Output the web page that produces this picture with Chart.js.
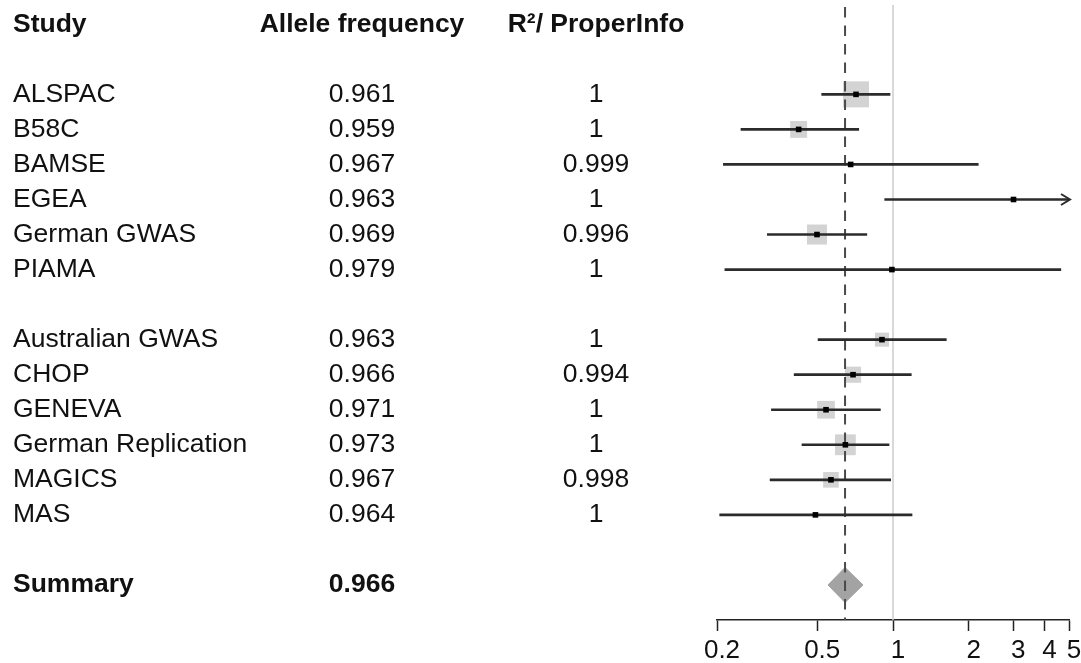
<!DOCTYPE html>
<html>
<head>
<meta charset="utf-8">
<script src="https://cdn.jsdelivr.net/npm/chart.js@4/dist/chart.umd.min.js"></script>
<style>
  html, body { margin: 0; padding: 0; background: #fff; }
  canvas { display: block; }
</style>
</head>
<body>
<canvas id="forest" width="1081" height="663"></canvas>
<script>
// Study-level results
const studies = ['ALSPAC', 'B58C', 'BAMSE', 'EGEA', 'German GWAS', 'PIAMA',
                 'Australian GWAS', 'CHOP', 'GENEVA', 'German Replication', 'MAGICS', 'MAS'];
const studyGroup = [1, 1, 1, 1, 1, 1, 2, 2, 2, 2, 2, 2];
const alleleFreq = ['0.961', '0.959', '0.967', '0.963', '0.969', '0.979',
                    '0.963', '0.966', '0.971', '0.973', '0.967', '0.964'];
const rsqInfo = ['1', '1', '0.999', '1', '0.996', '1',
                 '1', '0.994', '1', '1', '0.998', '1'];
const oddsRatio = [0.713, 0.422, 0.679, 3.01, 0.499, 0.99,
                   0.904, 0.694, 0.542, 0.647, 0.567, 0.492];
const ciLower = [0.521, 0.249, 0.212, 0.927, 0.317, 0.215,
                 0.504, 0.405, 0.329, 0.435, 0.325, 0.205];
const ciUpper = [0.973, 0.731, 2.18, 9.8, 0.787, 4.64,
                 1.628, 1.182, 0.891, 0.964, 0.979, 1.19];
const studyWeight = [1.00, 0.65, 0.15, 0.15, 0.77, 0.15,
                     0.54, 0.62, 0.68, 0.80, 0.60, 0.15];

// Pooled estimate
const summaryLabel = 'Summary';
const summaryFreq = '0.966';
const summaryOR = 0.645;
const summaryLower = 0.552;
const summaryUpper = 0.76;

// Column headers and axis ticks
const headers = ['Study', 'Allele frequency', 'R\u00B2/ ProperInfo'];
const xTicks = [0.2, 0.5, 1, 2, 3, 4, 5];

// ---- layout helpers ----
const FONT = "'Liberation Sans', Arial, Helvetica, sans-serif";
const X_MIN = 0.2, X_MAX = 5;
const Y_MIN = -0.55, Y_MAX = 17.0;
const MAX_BOX = 26;     // px side of the heaviest study's box
const DOT = 5.6;        // px side of the point estimate marker
const DIAMOND_HALF = 0.5;

// Row 0 is the header; each group is followed by a blank row.
const studyRow = studies.map((s, i) => i + 2 + (studyGroup[i] - 1));
const summaryRow = studyRow[studyRow.length - 1] + 2;

const textColumns = {
  id: 'textColumns',
  afterDraw(chart) {
    const ctx = chart.ctx;
    const y = chart.scales.y;
    ctx.save();
    ctx.fillStyle = '#111';
    ctx.textBaseline = 'middle';

    const colStudyX = 13, colFreqX = 362, colInfoX = 596;

    ctx.font = 'bold 26.5px ' + FONT;
    const hy = y.getPixelForValue(0);
    ctx.textAlign = 'left';
    ctx.fillText(headers[0], colStudyX, hy);
    ctx.textAlign = 'center';
    ctx.fillText(headers[1], colFreqX, hy);
    ctx.fillText(headers[2], colInfoX, hy);

    ctx.font = '26.5px ' + FONT;
    studies.forEach((name, i) => {
      const ry = y.getPixelForValue(studyRow[i]);
      ctx.textAlign = 'left';
      ctx.fillText(name, colStudyX, ry);
      ctx.textAlign = 'center';
      ctx.fillText(alleleFreq[i], colFreqX, ry);
      ctx.fillText(rsqInfo[i], colInfoX, ry);
    });

    ctx.font = 'bold 26.5px ' + FONT;
    const sy = y.getPixelForValue(summaryRow);
    ctx.textAlign = 'left';
    ctx.fillText(summaryLabel, colStudyX, sy);
    ctx.textAlign = 'center';
    ctx.fillText(summaryFreq, colFreqX, sy);
    ctx.restore();
  }
};

// Open arrowheads for intervals running past the axis limit
const clippedArrows = {
  id: 'clippedArrows',
  afterDatasetsDraw(chart) {
    const ctx = chart.ctx;
    const xs = chart.scales.x, ys = chart.scales.y;
    ctx.save();
    ctx.strokeStyle = '#2b2b2b';
    ctx.lineWidth = 2;
    studies.forEach((s, i) => {
      if (ciUpper[i] > X_MAX) {
        const tx = xs.getPixelForValue(X_MAX) + 1;
        const ty = ys.getPixelForValue(studyRow[i]);
        ctx.beginPath();
        ctx.moveTo(tx - 9, ty - 5.5);
        ctx.lineTo(tx, ty);
        ctx.lineTo(tx - 9, ty + 5.5);
        ctx.stroke();
      }
    });
    ctx.restore();
  }
};

const studyPoints = studies.map((s, i) => ({ x: oddsRatio[i], y: studyRow[i] }));

new Chart(document.getElementById('forest'), {
  data: {
    datasets: [
      { // line of no effect
        type: 'scatter', showLine: true, order: 6,
        data: [{ x: 1, y: Y_MIN }, { x: 1, y: Y_MAX }],
        borderColor: '#cdcdcd', borderWidth: 1.5, pointRadius: 0
      },
      { // study weight boxes
        type: 'scatter', order: 5,
        data: studyPoints,
        pointStyle: 'rect',
        pointRadius: studyWeight.map(w => MAX_BOX * w / Math.SQRT2),
        backgroundColor: '#d3d3d3', borderWidth: 0
      },
      { // pooled estimate diamond
        type: 'scatter', showLine: true, order: 4, fill: 'shape',
        data: [
          { x: summaryLower, y: summaryRow },
          { x: summaryOR, y: summaryRow - DIAMOND_HALF },
          { x: summaryUpper, y: summaryRow },
          { x: summaryOR, y: summaryRow + DIAMOND_HALF },
          { x: summaryLower, y: summaryRow }
        ],
        borderColor: '#a3a3a3', backgroundColor: '#a3a3a3',
        borderWidth: 1, pointRadius: 0, tension: 0
      },
      { // pooled estimate reference line
        type: 'scatter', showLine: true, order: 3,
        data: [{ x: summaryOR, y: Y_MIN + 0.06 }, { x: summaryOR, y: Y_MAX }],
        borderColor: '#4a4a4a', borderWidth: 2, borderDash: [10.5, 8], pointRadius: 0
      },
      { // confidence intervals
        type: 'bar', indexAxis: 'y', order: 2,
        data: studies.map((s, i) => ({ x: [ciLower[i], Math.min(ciUpper[i], X_MAX)], y: studyRow[i] })),
        backgroundColor: '#2b2b2b', barThickness: 2, borderWidth: 0, borderSkipped: false
      },
      { // point estimates
        type: 'scatter', order: 1,
        data: studyPoints,
        pointStyle: 'rect', pointRadius: DOT / Math.SQRT2,
        backgroundColor: '#000', borderWidth: 0
      }
    ]
  },
  options: {
    responsive: false,
    animation: false,
    layout: { autoPadding: false, padding: { left: 717, right: 12, top: 5, bottom: 0 } },
    plugins: { legend: { display: false }, tooltip: { enabled: false } },
    scales: {
      x: {
        type: 'logarithmic', min: X_MIN, max: X_MAX, offset: false,
        afterBuildTicks: (s) => { s.ticks = xTicks.map(v => ({ value: v })); },
        afterFit: (s) => { s.height = 43; s.paddingLeft = 0; s.paddingRight = 0; },
        ticks: {
          callback: (v) => String(v),
          font: { family: FONT, size: 26 }, color: '#111',
          maxRotation: 0, autoSkip: false, padding: 4, labelOffset: 5
        },
        grid: { offset: false, drawOnChartArea: false, drawTicks: true, tickLength: 11, tickColor: '#222', tickWidth: 1.5 },
        border: { display: true, color: '#222', width: 1.5 }
      },
      y: {
        type: 'linear', reverse: true, min: Y_MIN, max: Y_MAX, display: false,
        offset: false, grid: { offset: false }
      }
    }
  },
  plugins: [textColumns, clippedArrows]
});
</script>
</body>
</html>
